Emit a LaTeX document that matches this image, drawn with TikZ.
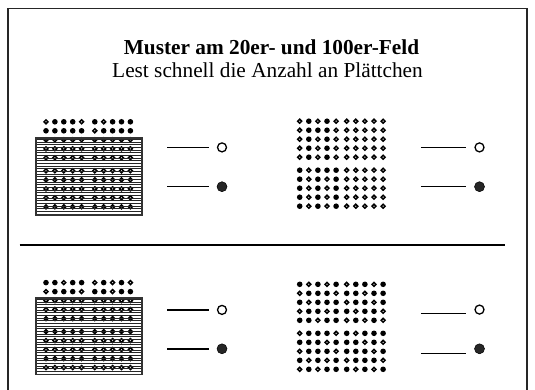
\documentclass[tikz,border=0pt]{standalone}
\usepackage{fontspec}
\setmainfont{Liberation Serif}
\tikzset{
  frameline/.style={line width=1.4pt, draw=black!85},
  sepline/.style={line width=1.4pt},
  conline/.style={line width=1.4pt},
  opencirc/.style={circle, draw, line width=1.3pt, minimum size=9pt, inner sep=0pt},
  fullcirc/.style={circle, fill=black!85, draw=black, line width=0.5pt, minimum size=10pt, inner sep=0pt},
  dotring/.style={line width=1.5pt},
  hidebox/.style={line width=1.4pt, draw=black!80},
  hatch/.style={line width=0.6pt, draw=black!85},
}
% #1 x0, #2 y0, #3 column step, #4 extra gap between groups, #5 rows
\newcommand\mydotgrid[5]{%
  \foreach \rowv [count=\r from 0] in {#5} {%
    \foreach \v [count=\c from 0] in \rowv {%
      \pgfmathsetmacro\xx{#1 + \c*#3 + (\c>4)*#4}%
      \pgfmathsetmacro\yy{#2 + \r*9 + (\r>4)*4}%
      \ifnum\v=1
        \fill (\xx,\yy) circle (2.8pt);
      \else
        \draw[dotring] (\xx,\yy) circle (1.95pt);
      \fi
    }%
  }%
}
\begin{document}
\begin{tikzpicture}[x=1pt,y=-1pt]
\path[use as bounding box] (0,0) rectangle (535,390);
% frame
\coordinate (fbl) at (7.8,391);
\coordinate (ftl) at (7.8,8.5);
\coordinate (ftr) at (527,8.5);
\coordinate (fbr) at (527,391);
\draw[frameline] (fbl) -- (ftl) -- (ftr) -- (fbr);
% titles
\node[anchor=base, font=\fontsize{21.3}{25}\selectfont\bfseries] (title) at (271.5,54.6) {Muster am 20er- und 100er-Feld};
\node[anchor=base, font=\fontsize{21.3}{25}\selectfont] (sub) at (267.5,77.8) {Lest schnell die Anzahl an Plättchen};
% separator
\coordinate (s1) at (19.5,245);
\coordinate (s2) at (504.5,245);
\draw[sepline] (s1) -- (s2);

% ---------- top-left 20-field ----------
\mydotgrid{46}{121.8}{8.9}{4.3}{{0,1,1,1,0,1,0,1,1,1},{1,1,1,1,1,0,1,1,1,1},
 {0,0,0,0,0,0,0,0,0,0},{0,0,0,0,0,0,0,0,0,0},{0,0,0,0,0,0,0,0,0,0},
 {0,0,0,0,0,0,0,0,0,0},{0,0,0,0,0,0,0,0,0,0},{0,0,0,0,0,0,0,0,0,0},
 {0,0,0,0,0,0,0,0,0,0},{0,0,0,0,0,0,0,0,0,0}}
\foreach \k in {0,...,28} {\draw[hatch] (36,{139.3+\k*2.67}) -- (142,{139.3+\k*2.67});}
\draw[hidebox] (35.8,138) rectangle (142,215);

% ---------- bottom-left 20-field ----------
\mydotgrid{46}{282.6}{8.9}{4.3}{{1,1,0,1,1,0,1,0,1,0},{0,1,1,1,0,1,1,0,1,1},
 {0,0,0,0,0,0,0,0,0,0},{0,0,0,0,0,0,0,0,0,0},{0,0,0,0,0,0,0,0,0,0},
 {0,0,0,0,0,0,0,0,0,0},{0,0,0,0,0,0,0,0,0,0},{0,0,0,0,0,0,0,0,0,0},
 {0,0,0,0,0,0,0,0,0,0},{0,0,0,0,0,0,0,0,0,0}}
\foreach \k in {0,...,28} {\draw[hatch] (36,{299.3+\k*2.67}) -- (142,{299.3+\k*2.67});}
\draw[hidebox] (35.8,298) rectangle (142,374.7);

% ---------- top-right 100-field ----------
\mydotgrid{299.7}{121.2}{9.1}{1.5}{{0,1,0,1,0,0,0,0,0,0},{0,1,1,1,0,0,0,0,0,0},
 {0,1,0,1,0,0,0,0,0,0},{0,1,0,1,0,0,0,0,0,0},{0,1,0,1,0,0,0,0,0,0},
 {1,0,1,1,1,0,0,0,0,0},{1,0,1,0,1,0,0,0,0,0},{1,0,1,0,1,0,0,0,0,0},
 {1,0,1,0,1,0,0,0,0,0},{1,0,1,0,1,0,0,0,0,0}}

% ---------- bottom-right 100-field ----------
\mydotgrid{299.7}{284.3}{9.1}{1.5}{{1,0,1,0,1,0,1,1,0,1},{0,1,1,1,0,1,1,0,1,1},
 {1,0,1,1,1,0,1,1,0,1},{0,1,1,0,1,1,0,1,1,0},{1,1,0,1,1,0,1,0,1,0},
 {0,1,1,1,0,1,0,1,1,1},{1,1,1,0,1,1,1,0,1,0},{0,1,1,1,0,1,1,1,0,1},
 {1,0,1,0,1,0,1,1,1,0},{0,1,0,1,1,1,0,1,0,1}}

% ---------- legend lines ----------
\coordinate (a1) at (167,147.4); \coordinate (b1) at (209,147.4);
\node[opencirc] (c1) at (222,147.4) {};
\coordinate (a2) at (167,186.7); \coordinate (b2) at (209,186.7);
\node[fullcirc] (c2) at (222,186.7) {};
\coordinate (a3) at (420.8,147.4); \coordinate (b3) at (466,147.4);
\node[opencirc] (c3) at (479.5,147.4) {};
\coordinate (a4) at (420.8,186.7); \coordinate (b4) at (466,186.7);
\node[fullcirc] (c4) at (479.5,186.7) {};
\coordinate (a5) at (167,309.9); \coordinate (b5) at (209,309.9);
\node[opencirc] (c5) at (222,309.9) {};
\coordinate (a6) at (167,348.8); \coordinate (b6) at (209,348.8);
\node[fullcirc] (c6) at (222,348.8) {};
\coordinate (a7) at (420.8,313.3); \coordinate (b7) at (466,313.3);
\node[opencirc] (c7) at (479.5,309.6) {};
\coordinate (a8) at (420.8,353.2); \coordinate (b8) at (466,353.2);
\node[fullcirc] (c8) at (479.5,348.8) {};
\foreach \i in {1,...,8} {\draw[conline] (a\i) -- (b\i);}
\end{tikzpicture}
\end{document}
